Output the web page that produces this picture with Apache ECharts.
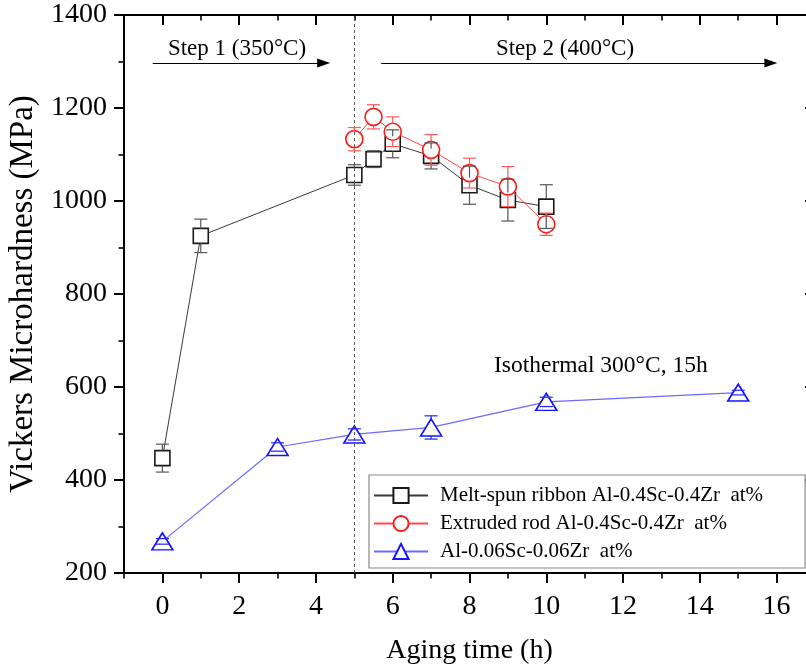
<!DOCTYPE html>
<html>
<head>
<meta charset="utf-8">
<script src="https://cdn.jsdelivr.net/npm/echarts@6/dist/echarts.min.js"></script>
<style>
  html, body { margin: 0; padding: 0; overflow: hidden; background: #fff; }
  #chart { width: 830px; height: 670px; }
</style>
</head>
<body>
<div id="chart"></div>
<script>
// Aging time (h), hardness (MPa) and standard deviation for each alloy
const meltTime = [0, 1, 5, 5.5, 6, 7, 8, 9, 10];
const meltHV   = [447, 925, 1056, 1090, 1123, 1097, 1034, 1002, 988];
const meltErr  = [30, 36, 22, 18, 30, 28, 41, 45, 47];

const rodTime = [5, 5.5, 6, 7, 8, 9, 10];
const rodHV   = [1133, 1181, 1149, 1110, 1060, 1031, 950];
const rodErr  = [25, 26, 32, 33, 32, 43, 24];

const lowTime = [0, 3, 5, 7, 10, 15];
const lowHV   = [268, 471, 498, 513, 568, 588];
const lowErr  = [6, 9, 12, 25, 10, 5];

const seriesNames = [
  'Melt-spun ribbon Al-0.4Sc-0.4Zr  at%',
  'Extruded rod Al-0.4Sc-0.4Zr  at%',
  'Al-0.06Sc-0.06Zr  at%'
];

const xMajorTicks = [0, 2, 4, 6, 8, 10, 12, 14, 16];
const stepBoundary = 5;          // switch from step 1 to step 2 (h)

// annotation arrows (data space)
const arrowLevel = 1297;
const step1Span = [-0.25, 4.2];
const step2Span = [5.7, 15.85];

const FONT = "'Liberation Serif', 'Times New Roman', serif";

function pairs(xs, ys) { return xs.map((x, i) => [x, ys[i]]); }

// Error bars drawn from the symbol edge outward, with caps
function errorBars(xs, ys, errs, color, gap, z) {
  return {
    type: 'custom',
    xAxisIndex: 0, yAxisIndex: 0,
    z: z, silent: true,
    encode: { x: 0, y: 3 },
    data: xs.map((x, i) => [x, ys[i] - errs[i], ys[i] + errs[i], ys[i]]),
    renderItem: function (params, api) {
      const c = api.coord([api.value(0), api.value(3)]);
      const lo = api.coord([api.value(0), api.value(1)]);
      const hi = api.coord([api.value(0), api.value(2)]);
      const cap = 6.5;
      const style = { stroke: color, lineWidth: 1.2, fill: null };
      const kids = [];
      if (hi[1] < c[1] - gap) kids.push({ type: 'line', shape: { x1: c[0], y1: c[1] - gap, x2: c[0], y2: hi[1] }, style: style });
      if (lo[1] > c[1] + gap) kids.push({ type: 'line', shape: { x1: c[0], y1: c[1] + gap, x2: c[0], y2: lo[1] }, style: style });
      kids.push({ type: 'line', shape: { x1: c[0] - cap, y1: hi[1], x2: c[0] + cap, y2: hi[1] }, style: style });
      kids.push({ type: 'line', shape: { x1: c[0] - cap, y1: lo[1], x2: c[0] + cap, y2: lo[1] }, style: style });
      return { type: 'group', children: kids };
    }
  };
}

const chart = echarts.init(document.getElementById('chart'), null, { renderer: 'canvas' });

const axisLineStyle = { color: '#000', width: 2 };
const gridBox = { left: 124, right: 15, top: 15, bottom: 97, containLabel: false, outerBoundsMode: 'none' };

const option = {
  animation: false,
  backgroundColor: '#fff',
  grid: [
    Object.assign({}, gridBox),
    Object.assign({}, gridBox)
  ],
  xAxis: [
    {
      gridIndex: 0, type: 'value', position: 'bottom',
      min: -1, max: 17, interval: 1,
      axisLine: { show: true, onZero: false, lineStyle: axisLineStyle },
      axisTick: { show: true, inside: false, length: 10, customValues: xMajorTicks, lineStyle: { color: '#000', width: 2 } },
      axisLabel: { show: true, customValues: xMajorTicks, fontFamily: FONT, fontSize: 28, color: '#000', margin: 20 },
      splitLine: { show: false },
      name: 'Aging time (h)', nameLocation: 'middle', nameGap: 64,
      nameTextStyle: { fontFamily: FONT, fontSize: 28, color: '#000' }
    },
    {
      gridIndex: 0, type: 'value', position: 'top',
      min: -1, max: 17, interval: 1,
      axisLine: { show: true, onZero: false, lineStyle: axisLineStyle },
      axisTick: { show: true, inside: true, length: 10, customValues: xMajorTicks, lineStyle: { color: '#000', width: 2 } },
      axisLabel: { show: false },
      splitLine: { show: false }
    },
    {
      gridIndex: 1, type: 'value', position: 'bottom',
      min: -1, max: 17, interval: 1,
      axisLine: { show: false, onZero: false },
      axisTick: { show: true, inside: false, length: 5.5, lineStyle: { color: '#000', width: 1.6 } },
      axisLabel: { show: false },
      splitLine: { show: false }
    },
    {
      gridIndex: 1, type: 'value', position: 'top',
      min: -1, max: 17, interval: 1,
      axisLine: { show: false, onZero: false },
      axisTick: { show: true, inside: true, length: 5.5, lineStyle: { color: '#000', width: 1.6 } },
      axisLabel: { show: false },
      splitLine: { show: false }
    }
  ],
  yAxis: [
    {
      gridIndex: 0, type: 'value', position: 'left',
      min: 200, max: 1400, interval: 200,
      axisLine: { show: true, onZero: false, lineStyle: axisLineStyle },
      axisTick: { show: true, inside: false, length: 10, lineStyle: { color: '#000', width: 2 } },
      minorTick: { show: true, splitNumber: 2, length: 5.5, lineStyle: { color: '#000', width: 1.6 } },
      axisLabel: { fontFamily: FONT, fontSize: 28, color: '#000', margin: 17, formatter: v => String(v) },
      splitLine: { show: false },
      minorSplitLine: { show: false },
      name: 'Vickers Microhardness (MPa)', nameLocation: 'middle', nameGap: 78,
      nameTextStyle: { fontFamily: FONT, fontSize: 33, color: '#000' }
    },
    {
      gridIndex: 0, type: 'value', position: 'right',
      min: 200, max: 1400, interval: 200,
      axisLine: { show: true, onZero: false, lineStyle: axisLineStyle },
      axisTick: { show: true, inside: true, length: 10, lineStyle: { color: '#000', width: 2 } },
      axisLabel: { show: false },
      splitLine: { show: false }
    },
    {
      gridIndex: 1, type: 'value', show: false, min: 200, max: 1400
    }
  ],
  legend: {
    data: seriesNames,
    orient: 'vertical',
    left: 369, top: 475,
    itemWidth: 54, itemHeight: 19, itemGap: 7,
    padding: [10, 42, 6, 4],
    borderColor: '#8a8a8a', borderWidth: 1.2,
    backgroundColor: '#fff',
    selectedMode: false,
    textStyle: { fontFamily: FONT, fontSize: 21, color: '#000', padding: [0, 0, 0, 7] }
  },
  graphic: [
    { type: 'text', x: 237, y: 49, style: { text: 'Step 1 (350°C)', font: "23px 'Liberation Serif', serif", fill: '#000', textAlign: 'center', textVerticalAlign: 'middle' } },
    { type: 'text', x: 565, y: 49, style: { text: 'Step 2 (400°C)', font: "23px 'Liberation Serif', serif", fill: '#000', textAlign: 'center', textVerticalAlign: 'middle' } },
    { type: 'text', x: 494, y: 366, style: { text: 'Isothermal 300°C, 15h', font: "23.5px 'Liberation Serif', serif", fill: '#000', textAlign: 'left', textVerticalAlign: 'middle' } }
  ],
  series: [
    {
      name: seriesNames[0], type: 'line', xAxisIndex: 0, yAxisIndex: 0,
      data: pairs(meltTime, meltHV),
      symbol: 'rect', symbolSize: 15,
      itemStyle: { color: '#fff', borderColor: '#1a1a1a', borderWidth: 1.6 },
      lineStyle: { color: '#3a3a3a', width: 1 },
      emphasis: { disabled: true },
      z: 3,
      markLine: {
        silent: true, animation: false, symbol: ['none', 'none'],
        label: { show: false },
        lineStyle: { color: '#555', width: 1, type: [3, 3] },
        data: [{ xAxis: stepBoundary }]
      }
    },
    {
      name: seriesNames[1], type: 'line', xAxisIndex: 0, yAxisIndex: 0,
      data: pairs(rodTime, rodHV),
      symbol: 'circle', symbolSize: 17,
      itemStyle: { color: '#fff', borderColor: '#ff1a1a', borderWidth: 1.6 },
      lineStyle: { color: '#ff4a4a', width: 1 },
      emphasis: { disabled: true },
      z: 4
    },
    {
      name: seriesNames[2], type: 'line', xAxisIndex: 0, yAxisIndex: 0,
      data: pairs(lowTime, lowHV),
      symbol: 'triangle', symbolSize: [21, 17],
      itemStyle: { color: '#fff', borderColor: '#1414ff', borderWidth: 1.6 },
      lineStyle: { color: '#6a6aff', width: 1.2 },
      emphasis: { disabled: true },
      z: 3,
      markLine: {
        silent: true, animation: false,
        symbol: ['none', 'triangle'], symbolSize: [9, 13],
        label: { show: false },
        lineStyle: { color: '#000', width: 1, type: 'solid' },
        itemStyle: { color: '#000' },
        data: [
          [{ coord: [step1Span[0], arrowLevel] }, { coord: [step1Span[1], arrowLevel] }],
          [{ coord: [step2Span[0], arrowLevel] }, { coord: [step2Span[1], arrowLevel] }]
        ]
      }
    },
    errorBars(meltTime, meltHV, meltErr, '#555', 7.5, 6),
    errorBars(rodTime, rodHV, rodErr, '#ff5a5a', 8.5, 6),
    errorBars(lowTime, lowHV, lowErr, '#2020ff', 8.5, 6)
  ]
};

chart.setOption(option);
</script>
</body>
</html>
